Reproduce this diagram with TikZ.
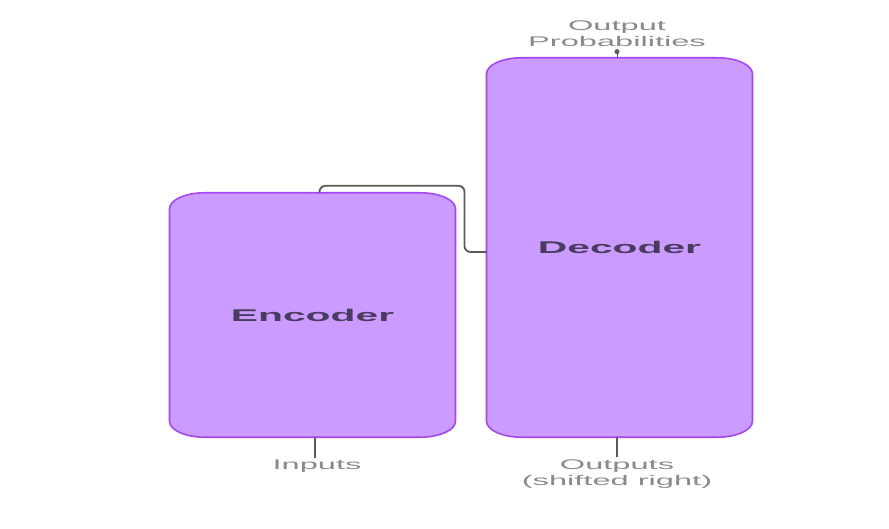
\documentclass[tikz,border=0pt]{standalone}
\usepackage{fontspec}
\setmainfont{Liberation Sans}
\usepackage{xcolor}
\usetikzlibrary{arrows, arrows.meta}
\definecolor{boxfill}{HTML}{CC9BFF}
\definecolor{boxline}{HTML}{A447F2}
\definecolor{boxtext}{HTML}{4A3B60}
\definecolor{lbltext}{HTML}{8A8A8A}
\definecolor{wire}{HTML}{5A5A5A}
\pgfdeclarelayer{bg}
\pgfsetlayers{bg,main}
% frame with wide, flat corners round a block node
\newcommand{\ovalframe}[1]{%
	\draw[frame] ([xshift=35pt]#1.north west) -- ([xshift=-35pt]#1.north east)
		arc[start angle=90, end angle=0, x radius=35pt, y radius=16pt] -- ([yshift=16pt]#1.south east)
		arc[start angle=0, end angle=-90, x radius=35pt, y radius=16pt] -- ([xshift=35pt]#1.south west)
		arc[start angle=270, end angle=180, x radius=35pt, y radius=16pt] -- ([yshift=-16pt]#1.north west)
		arc[start angle=180, end angle=90, x radius=35pt, y radius=16pt] -- cycle;}

\begin{document}
\begin{tikzpicture}[x=1pt, y=-1pt,
		block/.style={inner sep=0pt, xscale=2.4, font=\fontsize{17}{17}\selectfont\bfseries, text=boxtext},
		frame/.style={draw=boxline, fill=boxfill, line width=1.6pt},
		lbl/.style={xscale=2.33, font=\fontsize{14}{16}\selectfont, text=lbltext, align=center, inner sep=2pt},
		wirestyle/.style={draw=wire, line width=1.8pt}]
			\useasboundingbox (0,0) rectangle (889,529);
			\node[block, minimum width=285pt/2.4, minimum height=244pt] (enc) at (312.5,315){Encoder};%
			\node[block, minimum width=265pt/2.4, minimum height=379pt] (dec) at (619.5,247.5){Decoder};%
			\node[lbl] (inp) at (317,466){Inputs};%
			\node[lbl] (outs) at (617,474){Outputs\\(shifted right)};%
			\node[lbl] (probs) at (617,34){Output\\Probabilities};%
			\begin{pgfonlayer}{bg}
				\ovalframe{enc}
				\ovalframe{dec}
				\draw[wirestyle] (inp.north -| enc.south) ++(2.5,0) coordinate (instem) -- (instem |- enc.south);
				\draw[wirestyle] (outs.north) -- (outs.north |- dec.south);
			\end{pgfonlayer}
			\draw[wirestyle, rounded corners=6pt] ([xshift=7pt]enc.north) -- ++(0,-7) -| ([xshift=-22pt,yshift=-4.5pt]dec.west) -- ([yshift=-4.5pt]dec.west);
			\draw[wirestyle, line width=1pt, -{Circle[length=5pt]}] (probs.south |- dec.north) -- (probs.south);
		\end{tikzpicture}
\end{document}
